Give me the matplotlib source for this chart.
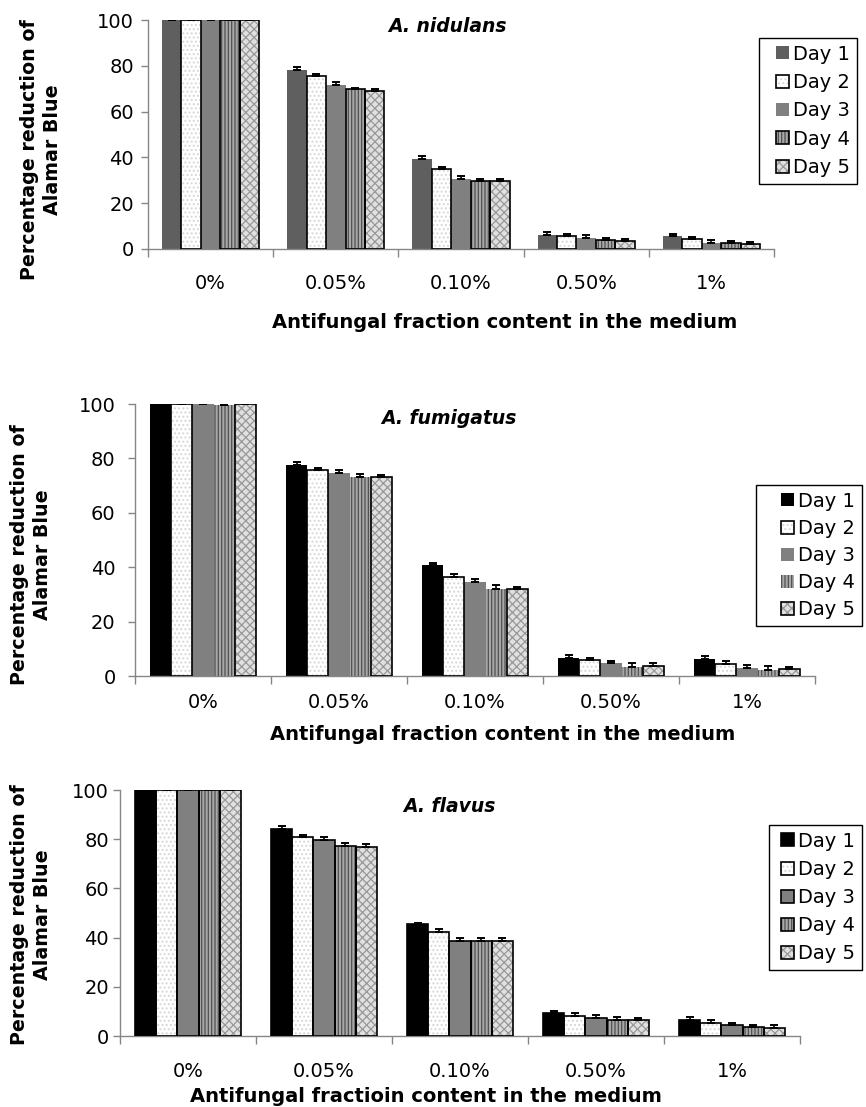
import matplotlib
matplotlib.use('Agg')
import matplotlib.pyplot as plt
import numpy as np
from matplotlib.patches import Patch, Rectangle
from matplotlib.legend_handler import HandlerPatch

plt.rcParams['font.family'] = ['DejaVu Sans']
plt.rcParams['hatch.linewidth'] = 0.9

W, H = 866, 1107

# ---------------- data ----------------
categories = ['0%', '0.05%', '0.10%', '0.50%', '1%']
days = ['Day 1', 'Day 2', 'Day 3', 'Day 4', 'Day 5']

nidulans_day1 = [100, 78.2, 39.3, 6.1, 5.8]
nidulans_day2 = [100, 75.5, 34.8, 5.7, 4.2]
nidulans_day3 = [100, 71.6, 30.4, 4.8, 2.8]
nidulans_day4 = [100, 69.7, 29.8, 3.9, 2.5]
nidulans_day5 = [100, 69.1, 29.8, 3.6, 2.3]
nidulans_err1 = [0, 1.2, 1.3, 1.2, 0.9]
nidulans_err2 = [0, 0.9, 1.0, 1.0, 1.0]
nidulans_err3 = [0, 1.2, 1.5, 1.2, 1.2]
nidulans_err4 = [0, 0.8, 0.9, 1.0, 1.0]
nidulans_err5 = [0, 0.8, 0.8, 0.9, 0.9]

fumigatus_day1 = [100, 77.6, 40.8, 6.5, 6.1]
fumigatus_day2 = [100, 75.7, 36.5, 5.9, 4.5]
fumigatus_day3 = [100, 74.5, 34.6, 4.7, 3.0]
fumigatus_day4 = [99.6, 73.2, 32.0, 3.2, 2.3]
fumigatus_day5 = [100, 73.2, 32.0, 3.7, 2.7]
fumigatus_err1 = [0, 1.0, 0.9, 1.1, 1.1]
fumigatus_err2 = [0, 0.9, 1.0, 0.9, 1.0]
fumigatus_err3 = [0, 1.3, 1.0, 0.9, 1.1]
fumigatus_err4 = [0, 1.2, 1.4, 1.4, 1.2]
fumigatus_err5 = [0, 0.7, 0.9, 1.0, 0.7]

flavus_day1 = [100, 84.1, 45.4, 9.3, 6.4]
flavus_day2 = [100, 80.8, 42.4, 8.3, 5.4]
flavus_day3 = [100, 79.8, 38.7, 7.5, 4.3]
flavus_day4 = [100, 77.4, 38.7, 6.5, 3.5]
flavus_day5 = [100, 77.0, 38.7, 6.4, 3.3]
flavus_err1 = [0, 1.3, 0.7, 0.9, 1.2]
flavus_err2 = [0, 1.1, 1.0, 1.2, 1.0]
flavus_err3 = [0, 0.9, 1.0, 1.0, 0.9]
flavus_err4 = [0, 1.0, 1.0, 1.1, 0.9]
flavus_err5 = [0, 1.1, 1.0, 0.9, 1.1]

# ---------------- styles ----------------
GRID = '#868686'
S_DARK = dict(fc='#5f5f5f', hatch=None, hc='#5f5f5f')
S_BLACK = dict(fc='#000000', hatch=None, hc='#000000')
S_WHITE = dict(fc='#ffffff', hatch='....', hc='#d6d6d6')
S_GRAY = dict(fc='#808080', hatch=None, hc='#808080')
S_STRIPE = dict(fc='#a8a8a8', hatch='|||||', hc='#505050')
S_CHECK = dict(fc='#e0e0e0', hatch='xxxx', hc='#989898')


def rect(x0, yt, x1, yb):
    return [x0 / W, 1 - yb / H, (x1 - x0) / W, (yb - yt) / H]


def fp(x, y):
    return (x / W, 1 - y / H)


def square(legend, orig_handle, xdescent, ydescent, width, height, fontsize):
    s = min(width, height)
    return Rectangle((-xdescent + width - s, -ydescent + (height - s) / 2), s, s)


fig = plt.figure(figsize=(W / 100, H / 100), dpi=100)


def panel(box, values, errors, styles, borders, title, title_xy, xlabel, xlabel_xy,
          ylabel_xy, ypad, xpad, leg_xy, leg_space, leg_hlen):
    ax = fig.add_axes(rect(*box))
    x = np.arange(len(categories))
    bw = 0.155
    n = len(days)
    handles = []
    for i in range(n):
        off = (i - (n - 1) / 2) * bw
        st = styles[i]
        ax.bar(x + off, values[i], bw, color=st['fc'], hatch=st['hatch'],
               edgecolor=st['hc'], linewidth=0, zorder=2)
        if borders[i]:
            ax.bar(x + off, values[i], bw, fill=False, edgecolor='black',
                   linewidth=1.2, zorder=3)
        ax.errorbar(x + off, values[i], yerr=[np.zeros(len(x)), errors[i]],
                    fmt='none', ecolor='black', elinewidth=1.2, capsize=3,
                    capthick=1.4, zorder=4)
        p1 = Patch(facecolor=st['fc'], hatch=st['hatch'], edgecolor=st['hc'], linewidth=0)
        p2 = Patch(fill=False, edgecolor='black' if borders[i] else 'none', linewidth=1.2)
        handles.append((p1, p2))

    ax.set_xlim(-0.5, len(categories) - 0.5)
    ax.set_ylim(0, 100)
    ax.set_yticks([0, 20, 40, 60, 80, 100])
    ax.set_xticks(x)
    ax.set_xticklabels(categories)
    ax.set_xticks(np.arange(-0.5, len(categories), 1), minor=True)
    for s in ['top', 'right']:
        ax.spines[s].set_visible(False)
    for s in ['left', 'bottom']:
        ax.spines[s].set_color(GRID)
        ax.spines[s].set_linewidth(1.0)
    ax.tick_params(axis='y', direction='out', length=5, width=1, color=GRID,
                   labelsize=14, pad=ypad)
    ax.tick_params(axis='x', which='major', length=0, labelsize=14, pad=xpad)
    ax.tick_params(axis='x', which='minor', direction='out', length=6, width=1, color=GRID)

    leg = ax.legend(handles, days, loc='upper left', bbox_to_anchor=fp(*leg_xy),
                    bbox_transform=fig.transFigure, borderaxespad=0, fontsize=14,
                    handler_map={Patch: HandlerPatch(patch_func=square)},
                    handlelength=leg_hlen, handleheight=0.65, handletextpad=0.2,
                    labelspacing=leg_space, borderpad=0.35, fancybox=False,
                    framealpha=1, edgecolor='black')
    leg.get_frame().set_linewidth(1.0)

    fig.text(*fp(*title_xy), title, fontsize=13.5, fontweight='bold',
             fontstyle='italic', ha='left', va='center')
    fig.text(*fp(*xlabel_xy), xlabel, fontsize=14, fontweight='bold',
             ha='center', va='center')
    fig.text(*fp(*ylabel_xy), 'Percentage reduction of\nAlamar Blue', fontsize=13.7,
             fontweight='bold', rotation=90, ha='center', va='center',
             multialignment='center')
    return ax


panel((148, 20, 774, 249),
      [nidulans_day1, nidulans_day2, nidulans_day3, nidulans_day4, nidulans_day5],
      [nidulans_err1, nidulans_err2, nidulans_err3, nidulans_err4, nidulans_err5],
      [S_DARK, S_WHITE, S_GRAY, S_STRIPE, S_CHECK],
      [False, True, False, True, True],
      'A. nidulans', (388, 27),
      'Antifungal fraction content in the medium', (505, 322),
      (41, 150), 5, 18, (759, 38), 0.48, 1.2)

panel((135, 404, 815, 676),
      [fumigatus_day1, fumigatus_day2, fumigatus_day3, fumigatus_day4, fumigatus_day5],
      [fumigatus_err1, fumigatus_err2, fumigatus_err3, fumigatus_err4, fumigatus_err5],
      [S_BLACK, S_WHITE, S_GRAY, S_STRIPE, S_CHECK],
      [False, True, False, False, True],
      'A. fumigatus', (381, 418),
      'Antifungal fraction content in the medium', (503, 734),
      (31, 555), 9, 12, (756, 485), 0.42, 1.6)

panel((120, 790, 800, 1036),
      [flavus_day1, flavus_day2, flavus_day3, flavus_day4, flavus_day5],
      [flavus_err1, flavus_err2, flavus_err3, flavus_err4, flavus_err5],
      [S_BLACK, S_WHITE, S_GRAY, S_STRIPE, S_CHECK],
      [True, True, True, True, True],
      'A. flavus', (403, 806),
      'Antifungal fractioin content in the medium', (426, 1097),
      (31, 915), 3, 19, (769, 825), 0.47, 0.95)

fig.savefig('out.png', dpi=100)
